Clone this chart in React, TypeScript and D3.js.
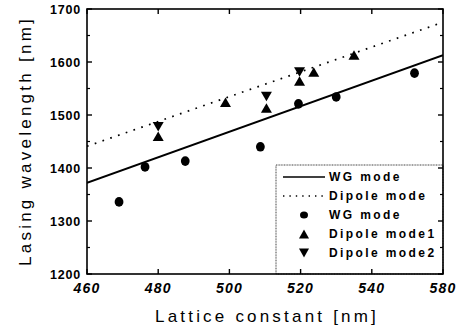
import React from "react";
import * as d3 from "d3";

const W = 460;
const H = 332;
const M = { left: 87, top: 9, right: 17, bottom: 58 };

const xTickValues = [460, 480, 500, 520, 540, 560];
const xTickLabels = ["460", "480", "500", "520", "540", "580"];
const yTickValues = [1200, 1300, 1400, 1500, 1600, 1700];
const yMinorValues = [1250, 1350, 1450, 1550, 1650];

// fitted lines: [x, y]
const wgLine: [number, number][] = [[460, 1372], [560, 1613]];
const dipoleLine: [number, number][] = [[460, 1441], [560, 1675]];

// measured points
const wgX = [469, 476.3, 487.6, 508.7, 519.4, 530, 552];
const wgY = [1336, 1402, 1413, 1440, 1521, 1534, 1579];
const dip1X = [480, 498.9, 510.4, 519.7, 523.7, 535];
const dip1Y = [1460, 1524, 1513, 1564, 1581, 1613];
const dip2X = [480, 510.4, 519.7];
const dip2Y = [1478, 1535, 1581];

const legendLabels = ["WG mode", "Dipole mode", "WG mode", "Dipole mode1", "Dipole mode2"];

const FONT = "'Liberation Sans', Arial, sans-serif";

function triUp(cx: number, cy: number, w: number, h: number) {
  return `M${cx - w / 2},${cy + h / 2}L${cx + w / 2},${cy + h / 2}L${cx},${cy - h / 2}Z`;
}
function triDown(cx: number, cy: number, w: number, h: number) {
  return `M${cx - w / 2},${cy - h / 2}L${cx + w / 2},${cy - h / 2}L${cx},${cy + h / 2}Z`;
}

export default function App() {
  const x0 = M.left;
  const x1 = W - M.right;
  const y0 = H - M.bottom;
  const y1 = M.top;
  const x = d3.scaleLinear().domain([460, 560]).range([x0, x1]);
  const y = d3.scaleLinear().domain([1200, 1700]).range([y0, y1]);
  const line = d3
    .line<[number, number]>()
    .x((d) => x(d[0]))
    .y((d) => y(d[1]));

  const legX = 276;
  const legY = 165;
  const rowY = [177, 196, 215, 234, 253];

  return (
    <svg
      width={W}
      height={H}
      style={{ position: "absolute", left: 0, top: 0, background: "#fff" }}
      fontFamily={FONT}
    >
      <rect x={0} y={0} width={W} height={H} fill="#fff" />
      <defs>
        <clipPath id="plot">
          <rect x={x0} y={y1} width={x1 - x0} height={y0 - y1} />
        </clipPath>
      </defs>

      {/* lines */}
      <g clipPath="url(#plot)">
        <path d={line(wgLine) || ""} fill="none" stroke="#000" strokeWidth={2} />
        <path
          d={line(dipoleLine) || ""}
          fill="none"
          stroke="#000"
          strokeWidth={1.7}
          strokeDasharray="1.7 6.5"
        />
      </g>

      {/* points */}
      {wgX.map((v, i) => (
        <ellipse key={"c" + i} cx={x(v)} cy={y(wgY[i])} rx={4.4} ry={4.8} fill="#000" />
      ))}
      {dip1X.map((v, i) => (
        <path key={"u" + i} d={triUp(x(v), y(dip1Y[i]), 11, 9.5)} fill="#000" />
      ))}
      {dip2X.map((v, i) => (
        <path key={"d" + i} d={triDown(x(v), y(dip2Y[i]), 11, 9.5)} fill="#000" />
      ))}

      {/* legend */}
      <rect
        x={legX}
        y={legY}
        width={x1 - legX}
        height={y0 - legY}
        fill="#fff"
        stroke="#444"
        strokeWidth={1}
        strokeDasharray="1 0.6"
      />
      <line x1={283} x2={325} y1={rowY[0]} y2={rowY[0]} stroke="#000" strokeWidth={1.6} />
      <line
        x1={283}
        x2={325}
        y1={rowY[1]}
        y2={rowY[1]}
        stroke="#000"
        strokeWidth={1.4}
        strokeDasharray="1.4 5"
      />
      <ellipse cx={304} cy={rowY[2]} rx={4} ry={3.6} fill="#000" />
      <path d={triUp(304, rowY[3], 10, 9)} fill="#000" />
      <path d={triDown(304, rowY[4], 10, 9)} fill="#000" />
      {legendLabels.map((t, i) => (
        <text
          key={"l" + i}
          x={329}
          y={rowY[i]}
          dy="0.36em"
          fontSize={12}
          fontWeight="bold"
          letterSpacing={2.4}
          fill="#000"
        >
          {t}
        </text>
      ))}

      {/* frame */}
      <rect x={x0} y={y1} width={x1 - x0} height={y0 - y1} fill="none" stroke="#000" strokeWidth={1.6} />

      {/* ticks */}
      {xTickValues.map((v, i) => (
        <g key={"xt" + i}>
          <line x1={x(v)} x2={x(v)} y1={y0} y2={y0 - 5} stroke="#000" strokeWidth={1.4} />
          <line x1={x(v)} x2={x(v)} y1={y1} y2={y1 + 5} stroke="#000" strokeWidth={1.4} />
          <text
            x={x(v)}
            y={y0 + 14}
            dy="0.35em"
            textAnchor="middle"
            fontSize={14}
            fontWeight="bold"
            fontStyle="italic"
            letterSpacing={1.2}
            fill="#000"
          >
            {xTickLabels[i]}
          </text>
        </g>
      ))}
      {yTickValues.map((v, i) => (
        <g key={"yt" + i}>
          <line x1={x0} x2={x0 + 5} y1={y(v)} y2={y(v)} stroke="#000" strokeWidth={1.4} />
          <line x1={x1} x2={x1 - 5} y1={y(v)} y2={y(v)} stroke="#000" strokeWidth={1.4} />
          <text
            x={x0 - 6}
            y={y(v)}
            dy="0.36em"
            textAnchor="end"
            fontSize={12.5}
            fontWeight="bold"
            letterSpacing={0.8}
            fill="#000"
          >
            {v}
          </text>
        </g>
      ))}
      {yMinorValues.map((v, i) => (
        <g key={"ym" + i}>
          <line x1={x0} x2={x0 + 3} y1={y(v)} y2={y(v)} stroke="#000" strokeWidth={1.2} />
          <line x1={x1} x2={x1 - 3} y1={y(v)} y2={y(v)} stroke="#000" strokeWidth={1.2} />
        </g>
      ))}

      {/* axis titles */}
      <text
        x={266}
        y={322}
        textAnchor="middle"
        fontSize={17}
        letterSpacing={1.2}
        textLength={222}
        lengthAdjust="spacing"
        fill="#000"
      >
        Lattice constant [nm]
      </text>
      <text
        transform={`translate(31,142) rotate(-90)`}
        textAnchor="middle"
        fontSize={17}
        letterSpacing={1.2}
        textLength={248}
        lengthAdjust="spacing"
        fill="#000"
      >
        Lasing wavelength [nm]
      </text>
    </svg>
  );
}
